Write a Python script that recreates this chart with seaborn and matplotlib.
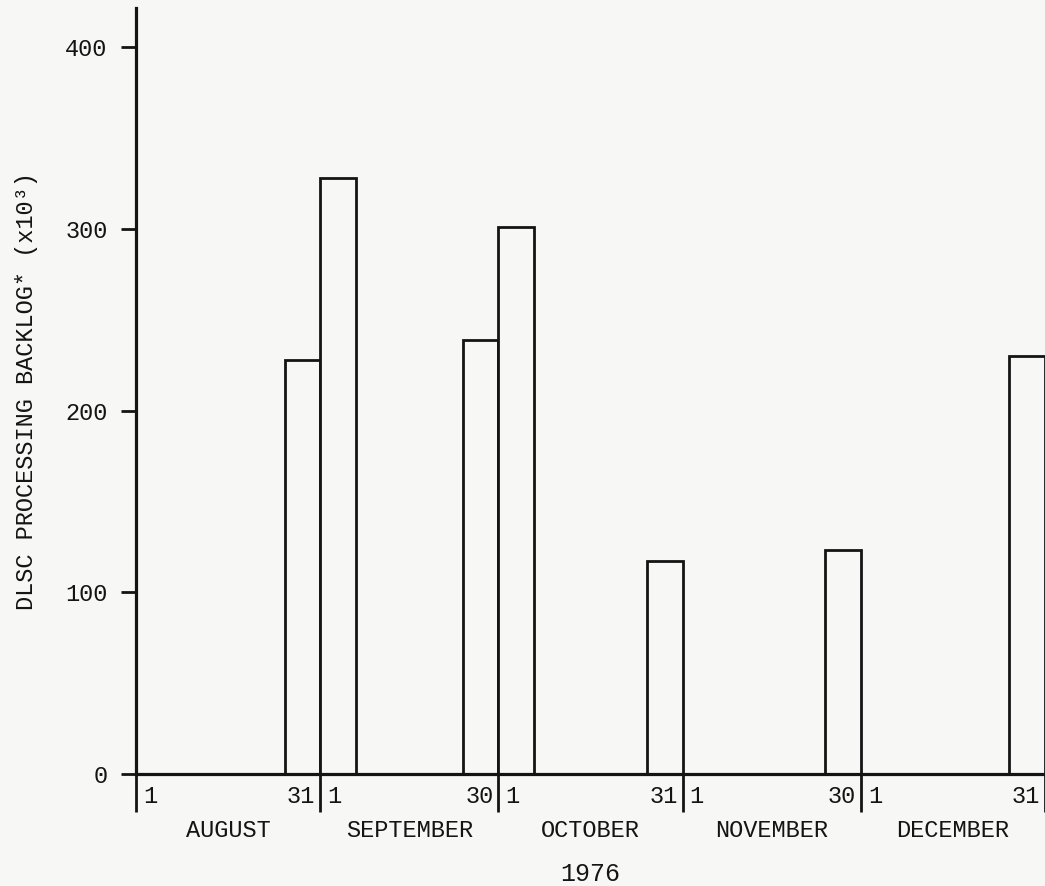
import numpy as np
import pandas as pd
import matplotlib
matplotlib.use("Agg")
import matplotlib.pyplot as plt
import matplotlib.transforms as mtransforms
import seaborn as sns

# ---- data ----
months = ["AUGUST", "SEPTEMBER", "OCTOBER", "NOVEMBER", "DECEMBER"]
month_days = [31, 30, 31, 30, 31]
bar_day = [28, 34, 58, 64, 89, 119, 150]        # bar centre, days after 1 Aug
backlog = [228, 328, 239, 301, 117, 123, 230]   # x10^3
y_ticks = [0, 100, 200, 300, 400]
year_label = "1976"
y_label = "DLSC PROCESSING BACKLOG* (x10³)"

sns.set_style("ticks")
FONT = ["Liberation Mono", "DejaVu Sans Mono"]
plt.rcParams["font.family"] = FONT
INK = "#141414"
BG = "#f7f7f5"

fig = plt.figure(figsize=(10.45, 8.86), dpi=100, facecolor=BG)
ax = fig.add_axes([136 / 1045, 1 - 774 / 886, 1 - 136 / 1045, (774 - 8) / 886])
ax.set_facecolor(BG)

df = pd.DataFrame({"day": bar_day, "backlog": backlog})
sns.barplot(data=df, x="day", y="backlog", native_scale=True, width=1.0,
            color="white", saturation=1, edgecolor=INK, linewidth=2.0,
            errorbar=None, ax=ax, zorder=3)
for p in ax.patches:
    p.set_facecolor(BG)

bounds = np.concatenate([[0], np.cumsum(month_days)])
ax.set_xlim(0, 152.3)
ax.set_ylim(0, 421.5)

for s in ["top", "right"]:
    ax.spines[s].set_visible(False)
for s in ["left", "bottom"]:
    ax.spines[s].set_linewidth(2.3)
    ax.spines[s].set_color(INK)
    ax.spines[s].set_zorder(4)

ax.set_xticks(bounds)
ax.set_xticklabels([])
ax.tick_params(axis="x", direction="out", length=27, width=2.0, color=INK)
ax.set_yticks(y_ticks)
ax.set_yticklabels([str(v) for v in y_ticks])
ax.tick_params(axis="y", direction="out", length=10.5, width=2.0, color=INK,
               labelsize=17, labelcolor=INK, pad=10)

ax.set_xlabel("")
ax.set_ylabel(y_label, fontsize=17, color=INK)
ax.yaxis.set_label_coords(-0.108, 0.5)

# day labels around month boundaries
tr = ax.get_xaxis_transform()
tr_r = mtransforms.offset_copy(tr, fig=fig, x=7, y=0, units="dots")
tr_l = mtransforms.offset_copy(tr, fig=fig, x=-5, y=0, units="dots")
y_day = (774 - 803) / 766
y_mon = (774 - 837) / 766
y_year = (774 - 881) / 766
for i, b in enumerate(bounds):
    if i > 0:
        ax.text(b, y_day, str(month_days[i - 1]), transform=tr_l, ha="right",
                va="baseline", fontsize=17, color=INK, clip_on=False)
    if i < len(months):
        ax.text(b, y_day, "1", transform=tr_r, ha="left", va="baseline",
                fontsize=17, color=INK, clip_on=False)
for i, m in enumerate(months):
    ax.text((bounds[i] + bounds[i + 1]) / 2, y_mon, m, transform=tr,
            ha="center", va="baseline", fontsize=17, color=INK, clip_on=False)
ax.text((bounds[0] + bounds[-1]) / 2, y_year, year_label, transform=tr,
        ha="center", va="baseline", fontsize=18, color=INK, clip_on=False)

fig.savefig("out.png", dpi=100, facecolor=BG)
